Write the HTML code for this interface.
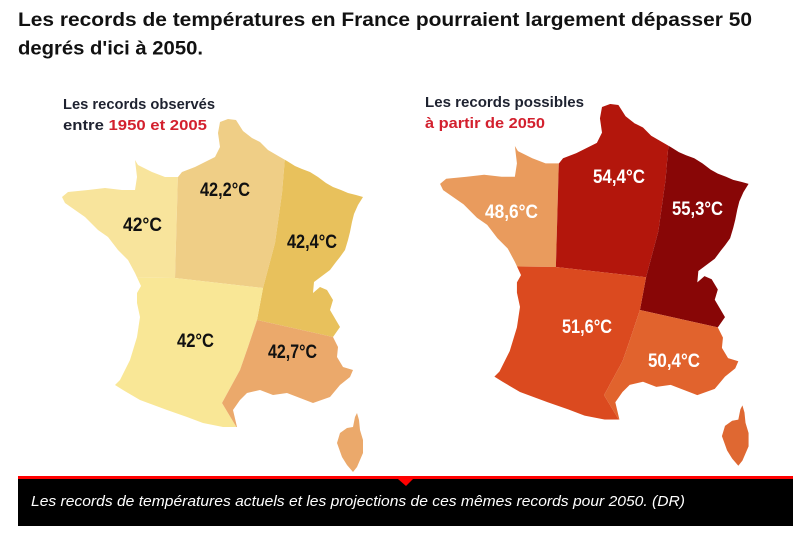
<!DOCTYPE html>
<html>
<head>
<meta charset="utf-8">
<style>
  html,body{margin:0;padding:0;background:#fff;}
  svg{display:block;}
  .t{font-family:"Liberation Sans",sans-serif;font-weight:bold;fill:#111;}
  .h{font-family:"Liberation Sans",sans-serif;font-weight:bold;}
  .v{font-family:"Liberation Sans Narrow","Liberation Sans",sans-serif;font-weight:bold;font-size:19px;}
</style>
</head>
<body>
<svg width="795" height="543" viewBox="0 0 795 543" xmlns="http://www.w3.org/2000/svg">
  <defs>
    <path id="fr" d="M220,122 L228,119 L236,120 L243,131 L252,138 L260,142 L268,150 L280,157 L287,161 L295,166 L302,169 L310,172 L318,177 L326,183 L333,187 L341,190 L348,193 L356,195 L363,197 L358,205 L354,214 L352,222 L350,232 L348,240 L345,250 L340,257 L336,262 L330,270 L322,276 L314,282 L313,293 L320,287 L327,290 L333,300 L330,310 L340,327 L333,337 L338,347 L337,357 L343,367 L353,370 L350,377 L340,385 L330,397 L313,403 L300,398 L287,393 L273,395 L260,390 L247,393 L240,400 L233,410 L237,427 L223,427 L203,423 L187,417 L167,410 L140,400 L123,390 L115,385 L120,380 L130,360 L137,337 L140,317 L137,303 L137,293 L141,286 L135,273 L128,260 L118,250 L108,237 L98,230 L85,217 L75,210 L65,203 L62,197 L68,192 L88,190 L105,188 L122,190 L135,190 L137,177 L135,160 L138,165 L152,172 L165,177 L178,177 L182,172 L195,167 L215,157 L220,147 L218,133 Z"/>
    <clipPath id="clipFr"><use href="#fr"/></clipPath>
    <path id="cor" d="M357,413 L359,420 L360,430 L363,440 L363,453 L357,467 L353,472 L347,465 L342,457 L337,443 L340,433 L347,428 L353,427 L355,417 Z"/>
  </defs>

  <!-- Title -->
  <text class="t" x="18" y="26" font-size="19" textLength="734" lengthAdjust="spacingAndGlyphs">Les records de températures en France pourraient largement dépasser 50</text>
  <text class="t" x="18" y="54.5" font-size="19" textLength="185" lengthAdjust="spacingAndGlyphs">degrés d'ici à 2050.</text>

  <!-- Left map -->
  <g>
    <g clip-path="url(#clipFr)">
      <polygon fill="#f8e49c" points="0,0 178,0 178,172 175,278 0,276"/>
      <polygon fill="#efce86" points="178,0 290,0 285,157 282,193 275,243 263,288 175,278 178,172"/>
      <polygon fill="#e8c15c" points="290,0 500,0 500,340 333,337 257,320 263,288 275,243 282,193 285,157"/>
      <polygon fill="#f9e796" points="0,276 175,278 263,288 257,320 248,347 240,370 222,403 237,428 237,500 0,500"/>
      <polygon fill="#eba96b" points="257,320 333,337 500,340 500,500 237,500 237,428 222,403 240,370 248,347"/>
    </g>
    <use href="#cor" fill="#eba96b"/>
  </g>

  <!-- Right map -->
  <g transform="translate(376.5,-18) scale(1.025)">
    <g clip-path="url(#clipFr)">
      <polygon fill="#e99b5d" points="0,0 178,0 178,172 175,278 0,276"/>
      <polygon fill="#b3160c" points="178,0 290,0 285,157 282,193 275,243 263,288 175,278 178,172"/>
      <polygon fill="#880606" points="290,0 500,0 500,340 333,337 257,320 263,288 275,243 282,193 285,157"/>
      <polygon fill="#db4a1f" points="0,276 175,278 263,288 257,320 248,347 240,370 222,403 237,428 237,500 0,500"/>
      <polygon fill="#e1632d" points="257,320 333,337 500,340 500,500 237,500 237,428 222,403 240,370 248,347"/>
    </g>
    <use href="#cor" fill="#df6832"/>
  </g>

  <!-- Map headings -->
  <text class="h" x="63" y="109" font-size="14.5" fill="#1e2230" textLength="152" lengthAdjust="spacingAndGlyphs">Les records observés</text>
  <text class="h" x="63" y="130" font-size="14.5" textLength="144" lengthAdjust="spacingAndGlyphs"><tspan fill="#1e2230">entre </tspan><tspan fill="#d3202e">1950 et 2005</tspan></text>
  <text class="h" x="425" y="107" font-size="14.5" fill="#1e2230" textLength="159" lengthAdjust="spacingAndGlyphs">Les records possibles</text>
  <text class="h" x="425" y="128" font-size="14.5" fill="#d3202e" textLength="120" lengthAdjust="spacingAndGlyphs">à partir de 2050</text>

  <!-- Left labels -->
  <g fill="#111">
    <text class="v" x="123" y="231" textLength="39" lengthAdjust="spacingAndGlyphs">42°C</text>
    <text class="v" x="200" y="196" textLength="50" lengthAdjust="spacingAndGlyphs">42,2°C</text>
    <text class="v" x="287" y="248" textLength="50" lengthAdjust="spacingAndGlyphs">42,4°C</text>
    <text class="v" x="177" y="347" textLength="37" lengthAdjust="spacingAndGlyphs">42°C</text>
    <text class="v" x="268" y="358" textLength="49" lengthAdjust="spacingAndGlyphs">42,7°C</text>
  </g>

  <!-- Right labels -->
  <g fill="#fff">
    <text class="v" x="593" y="183" textLength="52" lengthAdjust="spacingAndGlyphs">54,4°C</text>
    <text class="v" x="485" y="218" textLength="53" lengthAdjust="spacingAndGlyphs">48,6°C</text>
    <text class="v" x="672" y="215" textLength="51" lengthAdjust="spacingAndGlyphs">55,3°C</text>
    <text class="v" x="562" y="333" textLength="50" lengthAdjust="spacingAndGlyphs">51,6°C</text>
    <text class="v" x="648" y="367" textLength="52" lengthAdjust="spacingAndGlyphs">50,4°C</text>
  </g>

  <!-- Caption bar -->
  <rect x="18" y="476" width="775" height="3" fill="#ff0000"/>
  <rect x="18" y="479" width="775" height="47" fill="#000"/>
  <polygon points="398,479 413,479 406,486" fill="#ff0000"/>
  <text x="31" y="506" font-family="Liberation Sans, sans-serif" font-style="italic" font-size="14.5" fill="#fff" textLength="654" lengthAdjust="spacingAndGlyphs">Les records de températures actuels et les projections de ces mêmes records pour 2050. (DR)</text>
</svg>
</body>
</html>
